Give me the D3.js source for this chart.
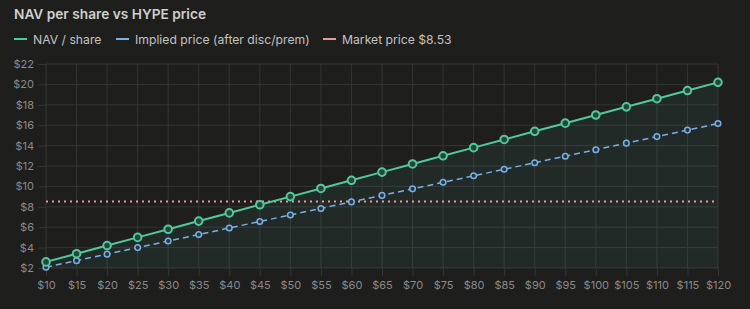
<!DOCTYPE html>
<html>
<head>
<meta charset="utf-8">
<script src="https://cdn.jsdelivr.net/npm/d3@7"></script>
<style>
  html, body { margin: 0; padding: 0; background: #1e1e1d; }
  svg { display: block; font-family: Inter, "Noto Sans", sans-serif; }
</style>
</head>
<body>
<svg id="chart" width="750" height="309"></svg>
<script>
// HYPE price on the x axis
var hypePrices = [10, 15, 20, 25, 30, 35, 40, 45, 50, 55, 60, 65, 70, 75, 80, 85, 90, 95, 100, 105, 110, 115, 120];
// NAV per share
var navValues = [2.6, 3.4, 4.2, 5.0, 5.8, 6.6, 7.4, 8.2, 9.0, 9.8, 10.6, 11.4, 12.2, 13.0, 13.8, 14.6, 15.4, 16.2, 17.0, 17.8, 18.6, 19.4, 20.2];
// implied price after discount / premium
var impliedValues = [2.08, 2.72, 3.36, 4.0, 4.64, 5.28, 5.92, 6.56, 7.2, 7.84, 8.48, 9.12, 9.76, 10.4, 11.04, 11.68, 12.32, 12.96, 13.6, 14.24, 14.88, 15.52, 16.16];
var marketPrice = 8.53;
var yTicks = [2, 4, 6, 8, 10, 12, 14, 16, 18, 20, 22];

var green = "#52c99a", blue = "#78b0e4", pink = "#e59a9c";
var svg = d3.select("#chart");

// title
svg.append("text")
  .attr("x", 14).attr("y", 19)
  .attr("fill", "#cfcfcf")
  .attr("font-size", 13.7).attr("font-weight", 600)
  .text("NAV per share vs HYPE price");

// legend
var legend = [
  {label: "NAV / share", color: green, x: 14},
  {label: "Implied price (after disc/prem)", color: blue, x: 116},
  {label: "Market price $" + marketPrice.toFixed(2), color: pink, x: 323}
];
legend.forEach(function(d) {
  svg.append("line")
    .attr("x1", d.x).attr("x2", d.x + 13)
    .attr("y1", 39).attr("y2", 39)
    .attr("stroke", d.color).attr("stroke-width", 2);
  svg.append("text")
    .attr("x", d.x + 19).attr("y", 44)
    .attr("fill", "#c2c2c2").attr("font-size", 12.2)
    .text(d.label);
});

// scales
var x = d3.scaleLinear().domain([10, 120]).range([46, 718]);
var y = d3.scaleLinear().domain([2, 22]).range([268, 64]);

// grid + axes
var gridColor = "#343434";
var xAxis = svg.append("g")
  .attr("transform", "translate(0,268)")
  .call(d3.axisBottom(x).tickValues(hypePrices).tickSize(8).tickFormat(function(d) { return "$" + d; }));
var yAxis = svg.append("g")
  .attr("transform", "translate(46,0)")
  .call(d3.axisLeft(y).tickValues(yTicks).tickSize(8).tickFormat(function(d) { return "$" + d; }));
[xAxis, yAxis].forEach(function(a) {
  a.select(".domain").remove();
  a.selectAll("line").attr("stroke", gridColor);
  a.selectAll("text").attr("fill", "#8a8a8a").attr("font-size", 11)
    .attr("font-family", "Inter, 'Noto Sans', sans-serif");
});
xAxis.selectAll("text").attr("dy", "0.9em");
yAxis.selectAll("text").attr("dx", "-1px");

svg.append("g").selectAll("line").data(hypePrices).join("line")
  .attr("x1", function(d) { return x(d); }).attr("x2", function(d) { return x(d); })
  .attr("y1", y(22)).attr("y2", y(2))
  .attr("stroke", gridColor);
svg.append("g").selectAll("line").data(yTicks).join("line")
  .attr("x1", x(10)).attr("x2", x(120))
  .attr("y1", function(d) { return y(d); }).attr("y2", function(d) { return y(d); })
  .attr("stroke", gridColor);

// area under NAV
var navData = hypePrices.map(function(p, i) { return {p: p, v: navValues[i]}; });
var impData = hypePrices.map(function(p, i) { return {p: p, v: impliedValues[i]}; });

svg.append("path")
  .datum(navData)
  .attr("fill", "#5fd0c0").attr("fill-opacity", 0.07)
  .attr("d", d3.area().x(function(d) { return x(d.p); }).y0(y(2)).y1(function(d) { return y(d.v); }));

// market price line
svg.append("line")
  .attr("x1", x(10)).attr("x2", x(120))
  .attr("y1", y(marketPrice)).attr("y2", y(marketPrice))
  .attr("stroke", pink).attr("stroke-width", 2)
  .attr("stroke-dasharray", "2,4");

var line = d3.line().x(function(d) { return x(d.p); }).y(function(d) { return y(d.v); });

// implied line
svg.append("path").datum(impData)
  .attr("fill", "none").attr("stroke", blue).attr("stroke-width", 1.5)
  .attr("stroke-dasharray", "6,4")
  .attr("d", line);
svg.append("g").selectAll("circle").data(impData).join("circle")
  .attr("cx", function(d) { return x(d.p); }).attr("cy", function(d) { return y(d.v); })
  .attr("r", 2.8)
  .attr("fill", "#2a3440").attr("stroke", blue).attr("stroke-width", 1.5);

// NAV line
svg.append("path").datum(navData)
  .attr("fill", "none").attr("stroke", green).attr("stroke-width", 2)
  .attr("d", line);
svg.append("g").selectAll("circle").data(navData).join("circle")
  .attr("cx", function(d) { return x(d.p); }).attr("cy", function(d) { return y(d.v); })
  .attr("r", 3.8)
  .attr("fill", "#28453a").attr("stroke", green).attr("stroke-width", 2);
</script>
</body>
</html>
